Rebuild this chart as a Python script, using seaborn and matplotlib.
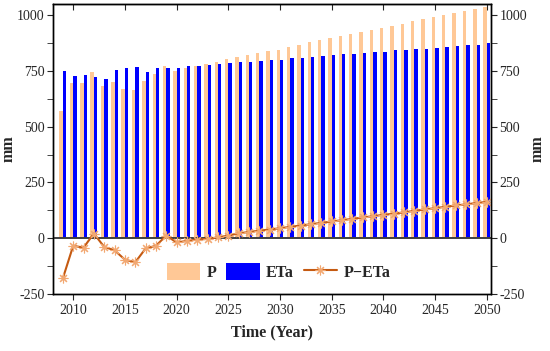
import numpy as np
import pandas as pd
import matplotlib
matplotlib.use("Agg")
import matplotlib.pyplot as plt
import seaborn as sns
from matplotlib.patches import Patch
from matplotlib.lines import Line2D
from matplotlib.ticker import MultipleLocator

years = list(range(2009, 2051))
p_vals = [569, 698, 695, 747, 683, 702, 668, 665, 704, 735,
          774, 749, 764, 774, 782, 792, 802, 813, 823, 831,
          838, 846, 858, 868, 879, 888, 897, 906, 915, 924,
          933, 942, 952, 961, 972, 982, 992, 1002, 1011, 1020,
          1029, 1038]
eta_vals = [749, 726, 731, 723, 714, 752, 761, 768, 747, 765,
            762, 765, 770, 774, 778, 781, 785, 788, 792, 795,
            798, 801, 806, 810, 813, 817, 821, 825, 828, 831,
            834, 837, 842, 844, 847, 850, 853, 857, 860, 864,
            868, 873]
diff_vals = [-180, -34, -42, 21, -39, -54, -96, -108, -46, -34,
             12, -19, -12, -6, -3, 4, 12, 22, 28, 34,
             39, 45, 51, 57, 63, 69, 75, 81, 87, 93,
             99, 105, 110, 116, 123, 129, 135, 141, 147, 152,
             158, 163]
yticks = [-250, 0, 250, 500, 750, 1000]
xticks = list(range(2010, 2051, 5))

c_p = "#FFC896"
c_eta = "#0000FF"
c_line = "#C55A11"
c_mark = "#F2A872"

sns.set_style("ticks")
plt.rcParams["font.family"] = ["Liberation Serif", "DejaVu Serif"]

bars = pd.DataFrame({
    "year": years * 2,
    "mm": p_vals + eta_vals,
    "var": ["P"] * len(years) + ["ETa"] * len(years),
})
line = pd.DataFrame({"year": years, "diff": diff_vals})

fig = plt.figure(figsize=(5.5, 3.51), dpi=100)
ax = fig.add_axes([0.0964, 0.1624, 0.7963, 0.8262])

sns.barplot(data=bars, x="year", y="mm", hue="var", native_scale=True,
            palette={"P": c_p, "ETa": c_eta}, hue_order=["P", "ETa"],
            width=0.66, dodge=True, saturation=1, linewidth=0,
            legend=False, ax=ax, zorder=2)
ax.axhline(0, color="#404040", lw=1.4, zorder=3)
sns.lineplot(data=line, x="year", y="diff", color=c_line, lw=1.5,
             marker=(8, 2, 0), markersize=7, markeredgecolor=c_mark,
             markeredgewidth=0.8, ax=ax, zorder=4)

ax.set_xlim(2008.05, 2050.4)
ax.set_ylim(-250, 1050)
ax.set_xticks(xticks)
ax.set_xticklabels([str(x) for x in xticks], fontsize=10)
ax.set_yticks(yticks)
ax.set_yticklabels([str(y) for y in yticks], fontsize=10)
ax.yaxis.set_minor_locator(MultipleLocator(125))
ax.tick_params(axis="x", which="major", direction="out", length=4)
ax.tick_params(axis="y", which="both", direction="out", length=4, pad=2)
ax.set_xlabel("Time (Year)", fontsize=11.5, fontweight="bold", labelpad=5)
ax.set_ylabel("mm", fontsize=11.5, fontweight="bold", labelpad=0)

ax2 = ax.twinx()
ax2.set_ylim(ax.get_ylim())
ax2.set_yticks(yticks)
ax2.set_yticklabels([str(y) for y in yticks], fontsize=10)
ax2.yaxis.set_minor_locator(MultipleLocator(125))
ax2.tick_params(axis="y", which="both", direction="out", length=4, pad=2)
ax2.set_ylabel("mm", fontsize=11.5, fontweight="bold", labelpad=2)

sec = ax.secondary_xaxis("top")
sec.set_xticks(xticks)
sec.tick_params(direction="in", length=4, labeltop=False)
sec.set_xticklabels([])

for a in (ax, ax2):
    for s in a.spines.values():
        s.set_color("black")
        s.set_linewidth(1.0)
        s.set_visible(True)

handles = [
    Patch(facecolor=c_p, edgecolor="none"),
    Patch(facecolor=c_eta, edgecolor="none"),
    Line2D([], [], color=c_line, lw=1.5, marker=(8, 2, 0), markersize=7,
           markeredgecolor=c_mark, markeredgewidth=0.8),
]
ax.legend(handles, ["P", "ETa", "P\u2212ETa"], loc="lower center",
          bbox_to_anchor=(0.515, -0.005), ncol=3, frameon=False,
          prop={"weight": "bold", "size": 11.5}, handlelength=2.1,
          handleheight=1.2, columnspacing=0.6, handletextpad=0.4)

fig.savefig("out.png", dpi=100)
